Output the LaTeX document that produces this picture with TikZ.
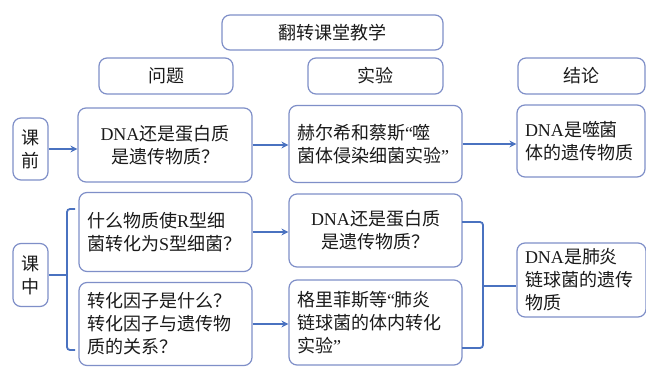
\documentclass[tikz,border=0pt]{standalone}
\usepackage{fontspec}
\setmainfont{Liberation Serif}
\newfontfamily\cjk{Noto Sans CJK SC}
\newfontfamily\latf{Liberation Serif}
\newcommand\Lt[1]{{\latf #1}}
\usetikzlibrary{arrows.meta}
\definecolor{boxc}{HTML}{7F8FC8}
\definecolor{linec}{HTML}{4A72C0}
\definecolor{txt}{HTML}{1A1A1A}
\begin{document}
\begin{tikzpicture}[x=1pt,y=-1pt,
  box/.style={draw=boxc, line width=1.2pt, rounded corners=8pt, fill=white,
    inner ysep=0pt, inner xsep=8pt, text=txt,
    font=\cjk\fontsize{18}{23}\selectfont, align=left},
  hdr/.style={box, align=center, inner xsep=0pt},
  arr/.style={draw=linec, line width=1.8pt, -{Stealth[length=7pt,width=7pt]}},
  brk/.style={draw=linec, line width=1.8pt, rounded corners=3pt}]
\useasboundingbox (0,0) rectangle (646,367);
\fill[white] (0,0) rectangle (646,367);
% headers
\node[hdr, minimum width=221pt, minimum height=35pt, text width=221pt] (title) at (332.5,32.5) {翻转课堂教学};
\node[hdr, minimum width=134pt, minimum height=36pt, text width=134pt] (h1) at (166,76) {问题};
\node[hdr, minimum width=135pt, minimum height=36pt, text width=135pt] (h2) at (375.5,76) {实验};
\node[hdr, minimum width=127pt, minimum height=36pt, text width=127pt] (h3) at (581.5,76) {结论};
% row 1
\node[hdr, minimum width=35pt, minimum height=62pt, text width=35pt] (kq) at (30.5,149) {课\\前};
\node[box, align=center, minimum height=74pt, text width=158pt] (q1) at (165,145) {\Lt{DNA}还是蛋白质\\是遗传物质？};
\node[box, minimum height=77pt, text width=157pt] (e1) at (375.5,144) {赫尔希和蔡斯\Lt{“}噬\\菌体侵染细菌实验\Lt{”}};
\node[box, minimum height=72pt, text width=112pt] (c1) at (581,141) {\Lt{DNA}是噬菌\\体的遗传物质};
% row 2
\node[hdr, minimum width=35pt, minimum height=63pt, text width=35pt] (kz) at (30.5,275) {课\\中};
\node[box, minimum height=79pt, text width=157pt] (q2) at (165.5,232) {什么物质使\Lt{R}型细\\菌转化为\Lt{S}型细菌？};
\node[box, minimum height=83pt, text width=157pt] (q3) at (165.5,324) {转化因子是什么？\\转化因子与遗传物\\质的关系？};
\node[box, align=center, minimum height=73pt, text width=157pt] (e2) at (375.5,230.5) {\Lt{DNA}还是蛋白质\\是遗传物质？};
\node[box, minimum height=85pt, text width=157pt] (e3) at (375.5,322.5) {格里菲斯等\Lt{“}肺炎\\链球菌的体内转化\\实验\Lt{”}};
\node[box, minimum height=74pt, text width=113pt] (c2) at (581.5,280) {\Lt{DNA}是肺炎\\链球菌的遗传\\物质};
% arrows
\draw[arr] (kq.east) -- (kq.east -| q1.west);
\draw[arr] (q1.east) -- (q1.east -| e1.west);
\draw[arr] (e1.east) -- (e1.east -| c1.west);
\draw[arr] (q2.east) -- (q2.east -| e2.west);
\draw[arr] (q3.east) -- (q3.east -| e3.west);
% left bracket
\coordinate (lt) at (75,209);
\coordinate (lb) at (75,350);
\coordinate (lm) at (67,0);
\draw[brk] (lt) -- (67,209) -- (67,350) -- (lb);
\draw[brk] (kz.east) -- (kz.east -| lm);
% right bracket
\coordinate (rt) at (462,222);
\coordinate (rb) at (462,348);
\coordinate (rtip) at (483,286);
\draw[brk] (rt) -- (483,222) -- (483,348) -- (rb);
\draw[brk] (rtip) -- (rtip -| c2.west);
\end{tikzpicture}
\end{document}
